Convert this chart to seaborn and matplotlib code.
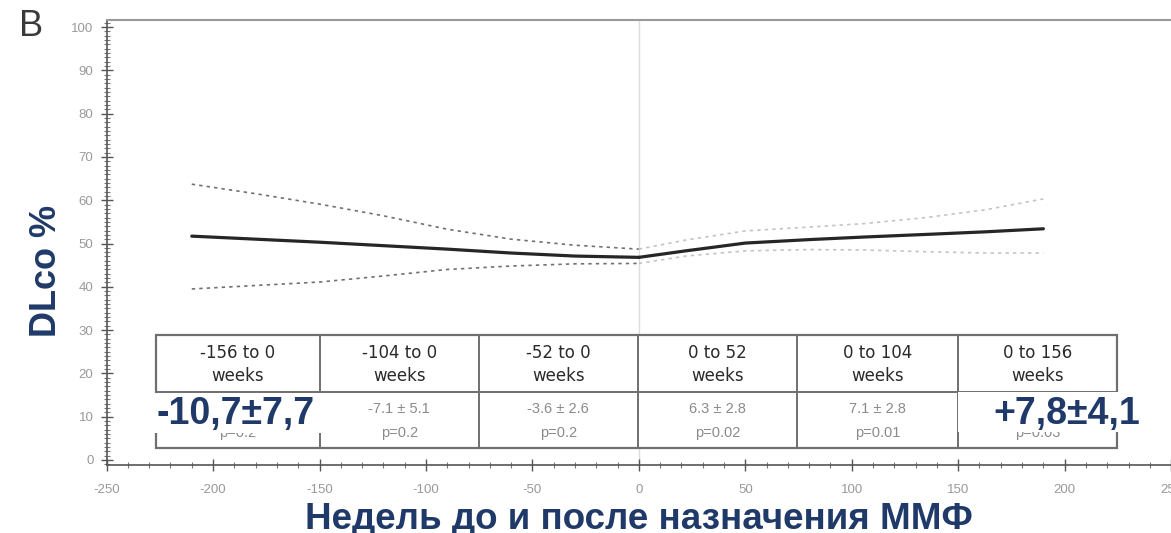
import numpy as np
import pandas as pd
import seaborn as sns
import matplotlib
matplotlib.use("Agg")
import matplotlib.pyplot as plt
from matplotlib.patches import Rectangle
from matplotlib.ticker import MultipleLocator

# ---------------- data ----------------
weeks_pre = [-210, -180, -150, -120, -90, -60, -30, 0]
mean_pre = [51.7, 51.0, 50.3, 49.5, 48.7, 47.8, 47.1, 46.8]
upper_pre = [63.7, 61.5, 59.1, 56.4, 53.3, 51.0, 49.6, 48.7]
lower_pre = [39.5, 40.3, 41.1, 42.5, 44.0, 44.8, 45.3, 45.4]

weeks_post = [0, 22, 50, 80, 106, 135, 163, 190]
mean_post = [46.8, 48.3, 50.1, 50.9, 51.5, 52.1, 52.7, 53.4]
upper_post = [48.7, 50.8, 52.9, 53.8, 54.6, 56.0, 57.8, 60.3]
lower_post = [45.4, 47.1, 48.3, 48.6, 48.5, 48.1, 47.8, 47.8]

headers_top = ["-156 to 0", "-104 to 0", "-52 to 0", "0 to 52", "0 to 104", "0 to 156"]
headers_bottom = ["weeks"] * 6
changes = ["-10.7 ± 7.7", "-7.1 ± 5.1", "-3.6 ± 2.6", "6.3 ± 2.8", "7.1 ± 2.8", "7.8 ± 4.1"]
pvals = ["p=0.2", "p=0.2", "p=0.2", "p=0.02", "p=0.01", "p=0.03"]
callout_left = "-10,7±7,7"
callout_right = "+7,8±4,1"

x_ticks = [-250, -200, -150, -100, -50, 0, 50, 100, 150, 200, 250]
y_ticks = [0, 10, 20, 30, 40, 50, 60, 70, 80, 90, 100]

x_label = "Недель до и после назначения ММФ"
y_label = "DLco %"
panel_label = "B"

# ---------------- fonts ----------------
sns.set_style("white")
plt.rcParams["font.family"] = ["Liberation Sans", "DejaVu Sans"]
plt.rcParams["axes.unicode_minus"] = False

NAVY = "#1f3a68"

# ---------------- figure ----------------
W, H = 1171, 533
fig = plt.figure(figsize=(W / 100, H / 100), dpi=100)
x0_px, sx = 641.0, 2.1375   # x=0 pixel, px per week
y0_px, sy = 460.0, 4.33     # y=0 pixel, px per unit
xlim = (-250, 248)
ylim = ((y0_px - 465) / sy, (y0_px - 20) / sy)
left_px = x0_px + xlim[0] * sx
right_px = x0_px + xlim[1] * sx
ax = fig.add_axes([left_px / W, (H - 465) / H, (right_px - left_px) / W, (465 - 20) / H])
ax.set_xlim(*xlim)
ax.set_ylim(*ylim)

pre = pd.DataFrame({"week": weeks_pre, "mean": mean_pre, "upper": upper_pre, "lower": lower_pre})
post = pd.DataFrame({"week": weeks_post, "mean": mean_post, "upper": upper_post, "lower": lower_post})

ax.axvline(0, color="#dddddd", lw=1, zorder=0)

for df, ci_col in [(pre, "#707070"), (post, "#c4c4c4")]:
    for col in ["upper", "lower"]:
        sns.lineplot(data=df, x="week", y=col, ax=ax, color=ci_col, lw=1.2,
                     linestyle=(0, (2, 2.5)), zorder=2)
    sns.lineplot(data=df, x="week", y="mean", ax=ax, color="#262626", lw=2.3, zorder=3)

ax.set_xlabel("")
ax.set_ylabel("")

# ticks
ax.set_xticks(x_ticks)
ax.set_yticks(y_ticks)
ax.xaxis.set_minor_locator(MultipleLocator(10))
ax.yaxis.set_minor_locator(MultipleLocator(1))
ax.tick_params(axis="both", which="major", direction="inout", length=9, width=1,
               color="#555555", labelsize=9.5, labelcolor="#999999", pad=5,
               bottom=True, left=True)
ax.tick_params(axis="both", which="minor", direction="inout", length=4, width=0.8,
               color="#777777", bottom=True, left=True)
ax.tick_params(axis="x", which="major", pad=9)

for side in ["left", "bottom"]:
    ax.spines[side].set_color("#555555")
    ax.spines[side].set_linewidth(1.2)
ax.spines["top"].set_color("#9a9a9a")
ax.spines["top"].set_linewidth(1.5)
ax.spines["right"].set_visible(False)

# ---------------- table ----------------
def px2x(p):
    return (p - x0_px) / sx

def py2y(p):
    return (y0_px - p) / sy

col_edges_px = [156, 321, 480, 640, 800, 961, 1121]
col_edges = [px2x(p) for p in col_edges_px]
t_top, t_sep, t_bot = py2y(335), py2y(391.5), py2y(448)

ax.add_patch(Rectangle((col_edges[0], t_bot), col_edges[-1] - col_edges[0], t_top - t_bot,
                       facecolor="white", edgecolor="#6f6f6f", lw=1.6, zorder=4))
ax.plot([col_edges[0], col_edges[-1]], [t_sep, t_sep], color="#6f6f6f", lw=1.4, zorder=5)
for xe in col_edges[1:-1]:
    ax.plot([xe, xe], [t_bot, t_top], color="#6f6f6f", lw=1.4, zorder=5)

for i in range(6):
    xc = (col_edges[i] + col_edges[i + 1]) / 2
    ax.text(xc, py2y(353), headers_top[i], ha="center", va="center", fontsize=12,
            color="#2a2a2a", zorder=6, family=["DejaVu Sans"])
    ax.text(xc, py2y(376), headers_bottom[i], ha="center", va="center", fontsize=12,
            color="#2a2a2a", zorder=6, family=["DejaVu Sans"])
    ax.text(xc, py2y(409), changes[i], ha="center", va="center", fontsize=10.5,
            color="#8a8a8a", zorder=6)
    ax.text(xc, py2y(433), pvals[i], ha="center", va="center", fontsize=10.5,
            color="#8a8a8a", zorder=6)

# callout boxes
ax.add_patch(Rectangle((px2x(140), py2y(433)), px2x(349) - px2x(140), py2y(393) - py2y(433),
                       facecolor="white", edgecolor="none", zorder=7, clip_on=False))
ax.add_patch(Rectangle((px2x(961), py2y(432)), px2x(1180) - px2x(961), py2y(392) - py2y(432),
                       facecolor="white", edgecolor="none", zorder=7, clip_on=False))
ax.text(px2x(236), py2y(424), callout_left, ha="center", va="baseline", fontsize=27,
        fontweight="bold", color=NAVY, zorder=8, clip_on=False)
ax.text(px2x(1070.5), py2y(424), callout_right, ha="center", va="baseline", fontsize=27,
        fontweight="bold", color=NAVY, zorder=8, clip_on=False)

# ---------------- labels ----------------
fig.text(46 / W, 1 - 271 / H, y_label, rotation=90, ha="center", va="center",
         fontsize=26, fontweight="bold", color=NAVY)
fig.text(639 / W, 1 - 529 / H, x_label, ha="center", va="baseline", fontsize=26.5,
         fontweight="bold", color=NAVY)
fig.text(31 / W, 1 - 27 / H, panel_label, ha="center", va="center", fontsize=26,
         color="#3a3a3a")

fig.savefig("out.png", dpi=100)
